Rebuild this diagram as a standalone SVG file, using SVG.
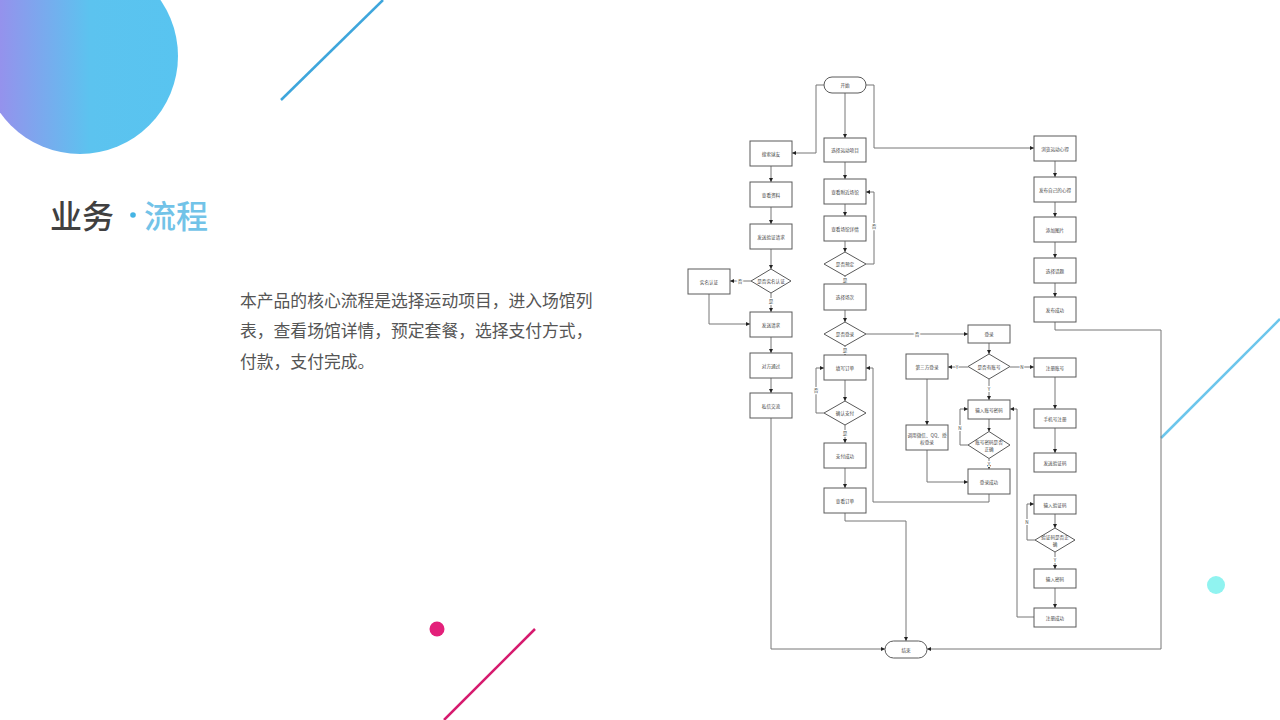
<svg xmlns="http://www.w3.org/2000/svg" width="1280" height="720" viewBox="0 0 1280 720">
<defs>
<linearGradient id="cg" x1="0" y1="0" x2="1" y2="0">
<stop offset="0" stop-color="#a088ec"/>
<stop offset="0.55" stop-color="#5cc3ef"/>
<stop offset="1" stop-color="#58c4f0"/>
</linearGradient>
<marker id="ah" viewBox="0 0 6 6" refX="6" refY="3" markerWidth="4" markerHeight="4" orient="auto">
<path d="M0,0 L6,3 L0,6 Z" fill="#222"/>
</marker>
<style>
.bx{fill:#fff;stroke:#5a5a5a;stroke-width:1}
.t{font-family:"Noto Sans CJK SC","Noto Sans",sans-serif;font-size:4.6px;fill:#444;text-anchor:middle;dominant-baseline:central}
.c{fill:none;stroke:#777;stroke-width:1;marker-end:url(#ah)}
.lb{font-family:"Noto Sans CJK SC","Noto Sans",sans-serif;font-size:4.6px;fill:#444;text-anchor:middle;dominant-baseline:central;stroke:#fff;stroke-width:2;paint-order:stroke}
.body{font-family:"Noto Sans CJK SC","Noto Sans",sans-serif;font-size:16.8px;fill:#555}
.ttl{font-family:"Noto Sans CJK SC","Noto Sans",sans-serif;font-size:32px;font-weight:500}
</style>
</defs>
<rect width="1280" height="720" fill="#fff"/>
<g id="decor">
<circle cx="80" cy="56" r="98" fill="url(#cg)"/>
<line x1="281" y1="100" x2="383" y2="0" stroke="#3ea6dc" stroke-width="2.5"/>
<circle cx="437" cy="629" r="7.5" fill="#e3207a"/>
<line x1="535" y1="629" x2="444" y2="720" stroke="#d61a6e" stroke-width="2.5"/>
<line x1="1280" y1="319" x2="1161" y2="438" stroke="#6cc6ec" stroke-width="2.5"/>
<circle cx="1216" cy="585" r="9" fill="#90f3f0"/>
</g>
<g id="title">
<text class="ttl" x="50" y="228" fill="#404040">业务</text>
<circle cx="133" cy="215" r="2.8" fill="#45b4e4"/>
<text class="ttl" x="144" y="228" fill="#72c3e8">流程</text>
</g>
<g id="desc">
<text class="body" x="240" y="307">本产品的核心流程是选择运动项目，进入场馆列</text>
<text class="body" x="240" y="337">表，查看场馆详情，预定套餐，选择支付方式，</text>
<text class="body" x="240" y="368">付款，支付完成。</text>
</g>
<g id="connectors">
<path class="c" d="M845 93 V138"/>
<path class="c" d="M824 85 H816 V153 H792"/>
<path class="c" d="M866 85 H874 V148 H1034"/>
<path class="c" d="M771 166 V182"/>
<path class="c" d="M771 207 V224"/>
<path class="c" d="M771 249 V269"/>
<path class="c" d="M751 281 H730"/>
<path class="c" d="M709 294 V324 H750"/>
<path class="c" d="M771 293 V312"/>
<path class="c" d="M771 337 V353"/>
<path class="c" d="M771 378 V393"/>
<path class="c" d="M771 418 V649 H885"/>
<path class="c" d="M845 162 V179"/>
<path class="c" d="M845 204 V216"/>
<path class="c" d="M845 241 V252"/>
<path class="c" d="M866 264 H874 V192 H866"/>
<path class="c" d="M845 276 V284"/>
<path class="c" d="M845 310 V322"/>
<path class="c" d="M866 334 H968"/>
<path class="c" d="M845 346 V355"/>
<path class="c" d="M845 380 V401"/>
<path class="c" d="M824 413 H816 V368 H824"/>
<path class="c" d="M845 425 V443"/>
<path class="c" d="M845 468 V488"/>
<path class="c" d="M845 513 V521 H906 V641"/>
<path class="c" d="M1055 161 V177"/>
<path class="c" d="M1055 202 V217"/>
<path class="c" d="M1055 242 V258"/>
<path class="c" d="M1055 283 V297"/>
<path class="c" d="M1055 322 V330 H1161 V649 H927"/>
<path class="c" d="M989 343 V354"/>
<path class="c" d="M968 367 H948"/>
<path class="c" d="M1010 367 H1034"/>
<path class="c" d="M989 379 V400"/>
<path class="c" d="M927 379 V425"/>
<path class="c" d="M927 450 V482 H968"/>
<path class="c" d="M989 419 V431.5"/>
<path class="c" d="M968 445 H960 V409 H968"/>
<path class="c" d="M989 458.5 V469"/>
<path class="c" d="M989 494 V502 H873 V368 H866"/>
<path class="c" d="M1055 377 V409"/>
<path class="c" d="M1055 428 V453"/>
<path class="c" d="M1055 514 V528"/>
<path class="c" d="M1035 540 H1027 V504 H1034"/>
<path class="c" d="M1055 552 V569"/>
<path class="c" d="M1055 588 V608"/>
<path class="c" d="M1034 617 H1017 V409 H1010"/>
<text class="lb" x="740" y="281">否</text>
<text class="lb" x="771" y="301">是</text>
<text class="lb" x="874" y="226">否</text>
<text class="lb" x="845" y="280">是</text>
<text class="lb" x="917" y="334">否</text>
<text class="lb" x="845" y="350">是</text>
<text class="lb" x="816" y="390">否</text>
<text class="lb" x="845" y="433">是</text>
<text class="lb" x="957" y="367">Y</text>
<text class="lb" x="1022" y="367">N</text>
<text class="lb" x="989" y="389">Y</text>
<text class="lb" x="960" y="428">N</text>
<text class="lb" x="989" y="464">Y</text>
<text class="lb" x="1027" y="522">N</text>
<text class="lb" x="1055" y="560">Y</text>
</g>
<g id="n-start"><rect class="bx" x="824" y="77" width="42" height="16" rx="8"/><text class="t" x="845" y="85">开始</text></g>
<g id="n-search"><rect class="bx" x="750" y="141" width="42" height="25"/><text class="t" x="771" y="153.5">搜索球友</text></g>
<g id="n-profile"><rect class="bx" x="750" y="182" width="42" height="25"/><text class="t" x="771" y="194.5">查看资料</text></g>
<g id="n-sendverify"><rect class="bx" x="750" y="224" width="42" height="25"/><text class="t" x="771" y="236.5">发送验证请求</text></g>
<g id="n-isreal"><polygon class="bx" points="771,269 791,281 771,293 751,281"/><text class="t" x="771" y="281">是否实名认证</text></g>
<g id="n-real"><rect class="bx" x="688" y="269" width="42" height="25"/><text class="t" x="709" y="281.5">实名认证</text></g>
<g id="n-sendreq"><rect class="bx" x="750" y="312" width="42" height="25"/><text class="t" x="771" y="324.5">发送请求</text></g>
<g id="n-pass"><rect class="bx" x="750" y="353" width="42" height="25"/><text class="t" x="771" y="365.5">对方通过</text></g>
<g id="n-chat"><rect class="bx" x="750" y="393" width="42" height="25"/><text class="t" x="771" y="405.5">私信交流</text></g>
<g id="n-sport"><rect class="bx" x="824" y="138" width="42" height="24"/><text class="t" x="845" y="150">选择运动项目</text></g>
<g id="n-venues"><rect class="bx" x="824" y="179" width="42" height="25"/><text class="t" x="845" y="191.5">查看附近场馆</text></g>
<g id="n-detail"><rect class="bx" x="824" y="216" width="42" height="25"/><text class="t" x="845" y="228.5">查看场馆详情</text></g>
<g id="n-isbook"><polygon class="bx" points="845,252 866,264 845,276 824,264"/><text class="t" x="845" y="264">是否预定</text></g>
<g id="n-session"><rect class="bx" x="824" y="284" width="42" height="26"/><text class="t" x="845" y="297">选择场次</text></g>
<g id="n-islogin"><polygon class="bx" points="845,322 866,334 845,346 824,334"/><text class="t" x="845" y="334">是否登录</text></g>
<g id="n-order"><rect class="bx" x="824" y="355" width="42" height="25"/><text class="t" x="845" y="367.5">填写订单</text></g>
<g id="n-confirm"><polygon class="bx" points="845,401 866,413 845,425 824,413"/><text class="t" x="845" y="413">确认支付</text></g>
<g id="n-paid"><rect class="bx" x="824" y="443" width="42" height="25"/><text class="t" x="845" y="455.5">支付成功</text></g>
<g id="n-vieworder"><rect class="bx" x="824" y="488" width="42" height="25"/><text class="t" x="845" y="500.5">查看订单</text></g>
<g id="n-browse"><rect class="bx" x="1034" y="136" width="42" height="25"/><text class="t" x="1055" y="148.5">浏览运动心得</text></g>
<g id="n-post"><rect class="bx" x="1034" y="177" width="42" height="25"/><text class="t" x="1055" y="189.5">发布自己的心得</text></g>
<g id="n-img"><rect class="bx" x="1034" y="217" width="42" height="25"/><text class="t" x="1055" y="229.5">添加图片</text></g>
<g id="n-topic"><rect class="bx" x="1034" y="258" width="42" height="25"/><text class="t" x="1055" y="270.5">选择话题</text></g>
<g id="n-posted"><rect class="bx" x="1034" y="297" width="42" height="25"/><text class="t" x="1055" y="309.5">发布成功</text></g>
<g id="n-login"><rect class="bx" x="968" y="325" width="42" height="18"/><text class="t" x="989" y="334">登录</text></g>
<g id="n-hasacct"><polygon class="bx" points="989,354 1010,366.5 989,379 968,366.5"/><text class="t" x="989" y="366.5">是否有账号</text></g>
<g id="n-third"><rect class="bx" x="906" y="354" width="42" height="25"/><text class="t" x="927" y="366.5">第三方登录</text></g>
<g id="n-oauth"><rect class="bx" x="906" y="425" width="42" height="25"/><text class="t" x="927" y="434.5">调用微信、QQ、授</text><text class="t" x="927" y="441.5">权登录</text></g>
<g id="n-pwd"><rect class="bx" x="968" y="400" width="42" height="19"/><text class="t" x="989" y="409.5">输入账号密码</text></g>
<g id="n-pwdok"><polygon class="bx" points="989,431.5 1010,445 989,458.5 968,445"/><text class="t" x="989" y="441.5">账号密码是否</text><text class="t" x="989" y="448.5">正确</text></g>
<g id="n-loggedin"><rect class="bx" x="968" y="469" width="42" height="25"/><text class="t" x="989" y="481.5">登录成功</text></g>
<g id="n-reg"><rect class="bx" x="1034" y="358" width="42" height="19"/><text class="t" x="1055" y="367.5">注册账号</text></g>
<g id="n-phone"><rect class="bx" x="1034" y="409" width="42" height="19"/><text class="t" x="1055" y="418.5">手机号注册</text></g>
<g id="n-sendcode"><rect class="bx" x="1034" y="453" width="42" height="19"/><text class="t" x="1055" y="462.5">发送验证码</text></g>
<g id="n-inputcode"><rect class="bx" x="1034" y="495" width="42" height="19"/><text class="t" x="1055" y="504.5">输入验证码</text></g>
<g id="n-codeok"><polygon class="bx" points="1055,528 1075,540 1055,552 1035,540"/><text class="t" x="1055" y="537">验证码是否正</text><text class="t" x="1055" y="543.5">确</text></g>
<g id="n-setpwd"><rect class="bx" x="1034" y="569" width="42" height="19"/><text class="t" x="1055" y="578.5">输入密码</text></g>
<g id="n-regok"><rect class="bx" x="1034" y="608" width="42" height="19"/><text class="t" x="1055" y="617.5">注册成功</text></g>
<g id="n-end"><rect class="bx" x="885" y="641" width="42" height="17" rx="8.5"/><text class="t" x="906" y="649.5">结束</text></g>
</svg>
